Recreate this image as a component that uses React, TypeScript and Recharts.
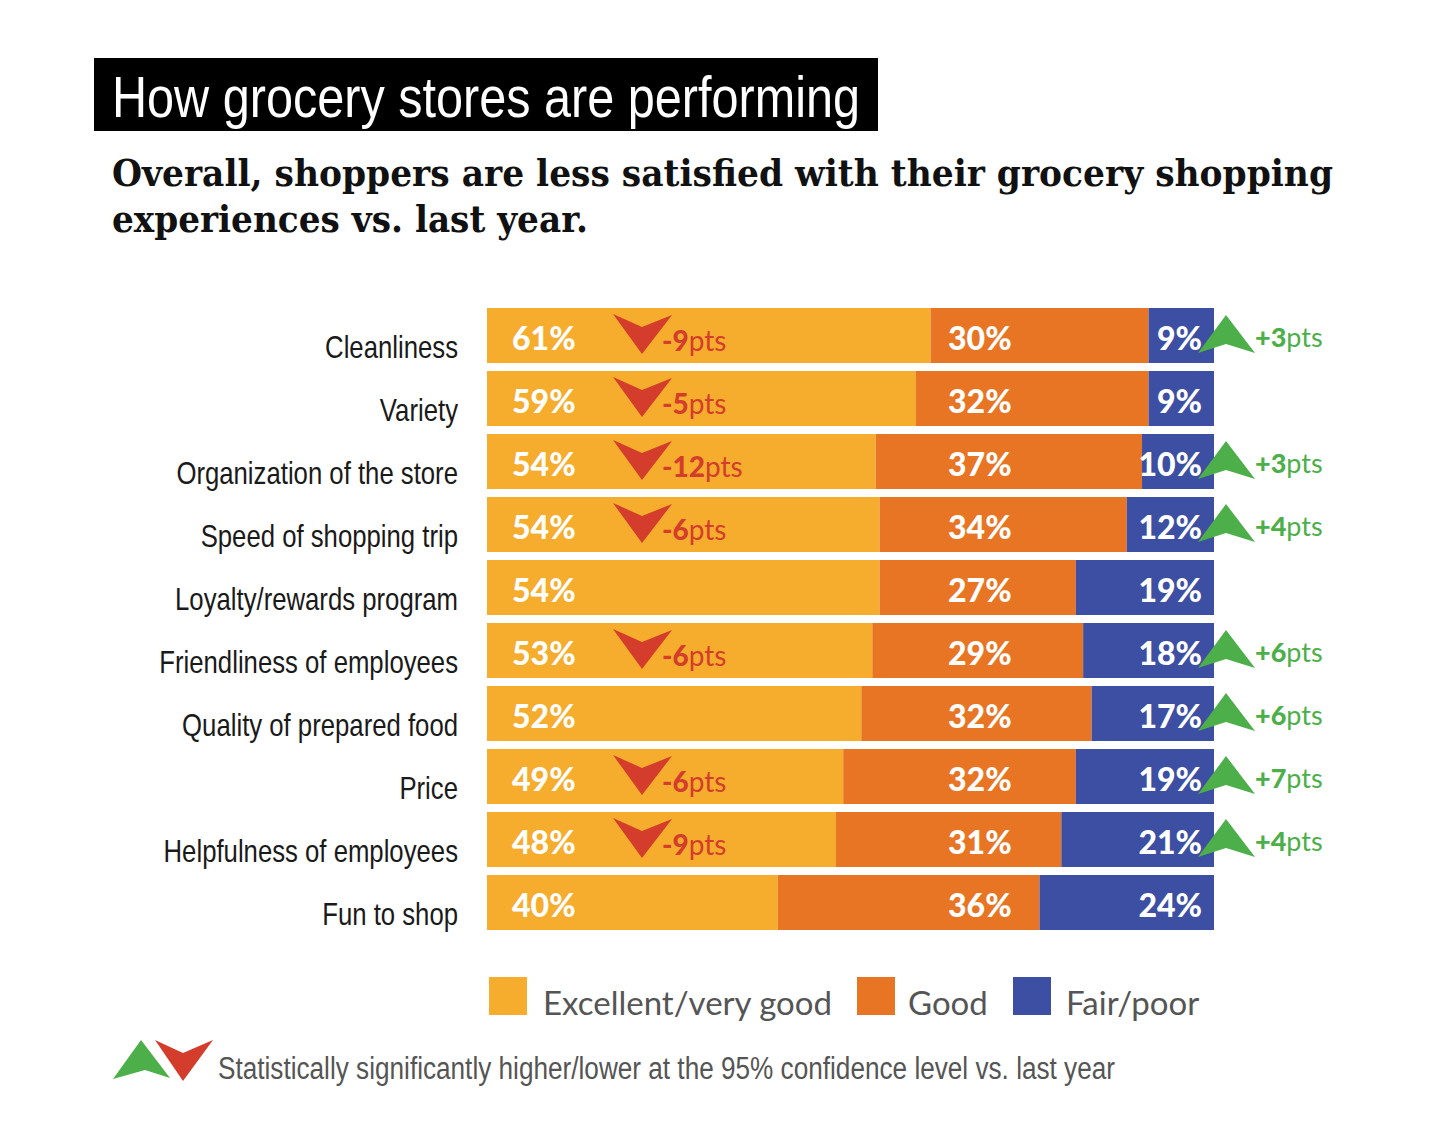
import React from 'react';
import { BarChart, Bar, XAxis, YAxis, LabelList } from 'recharts';

const categories = [
  'Cleanliness',
  'Variety',
  'Organization of the store',
  'Speed of shopping trip',
  'Loyalty/rewards program',
  'Friendliness of employees',
  'Quality of prepared food',
  'Price',
  'Helpfulness of employees',
  'Fun to shop',
];
const excellent = [61, 59, 54, 54, 54, 53, 52, 49, 48, 40];
const good = [30, 32, 37, 34, 27, 29, 32, 32, 31, 36];
const fair = [9, 9, 10, 12, 19, 18, 17, 19, 21, 24];
const excellentChange: (number | null)[] = [-9, -5, -12, -6, null, -6, null, -6, -9, null];
const fairChange: (number | null)[] = [3, null, 3, 4, null, 6, 6, 7, 4, null];

const seriesNames = ['Excellent/very good', 'Good', 'Fair/poor'];
const titleText = 'How grocery stores are performing';
const subtitleLines = ['Overall, shoppers are less satisfied with their grocery shopping', 'experiences vs. last year.'];
const noteText = 'Statistically significantly higher/lower at the 95% confidence level vs. last year';

const COLORS = ['#F6AC2C', '#E87524', '#3C4FA2'];
const RED = '#D43D2C';
const GREEN = '#4DAF4A';

const data = categories.map((name, i) => ({
  name,
  excellent: excellent[i],
  good: good[i],
  fair: fair[i],
}));

const W = 1440;
const H = 1140;
const PLOT_LEFT = 487;
const PLOT_RIGHT = 1214;
const PLOT_TOP = 304;
const PLOT_BOTTOM = 934;

const SANS = '"Liberation Sans", Arial, sans-serif';
const ROUND = 'Lato, "Open Sans", sans-serif';
const NARROW_SCALE = 0.83;
const SUB_SCALE = 0.85;

const valueStyle = {
  fill: '#fff',
  fontFamily: ROUND,
  fontWeight: 900,
  fontSize: 32,
};

const CategoryTick = (props: any) => {
  const { x, y, payload } = props;
  return (
    <g transform={`translate(${x - 21},${y + 12}) scale(${NARROW_SCALE},1)`}>
      <text
        x={0}
        y={0}
        textAnchor="end"
        dominantBaseline="central"
        fontFamily={SANS}
        fontSize={31}
        fill="#1a1a1a"
      >
        {payload.value}
      </text>
    </g>
  );
};

const ExcellentLabel = (props: any) => {
  const { x, y, height, index } = props;
  const ch = excellentChange[index];
  const cy = y + height / 2 + 2;
  const ax = x + 126;
  return (
    <g>
      <text x={x + 25} y={cy} dominantBaseline="central" {...valueStyle}>
        {excellent[index]}%
      </text>
      {ch !== null && (
        <g>
          <path
            d={`M${ax},${y + 6} L${ax + 29},${y + 19} L${ax + 59},${y + 7} L${ax + 29},${y + 46} Z`}
            fill={RED}
          />
          <text x={ax + 49} y={y + 32} dominantBaseline="central" fontFamily={ROUND} fontSize={28} fill={RED}>
            <tspan fontWeight={900}>{ch}</tspan>
            <tspan fontWeight={400}>pts</tspan>
          </text>
        </g>
      )}
    </g>
  );
};

const GoodLabel = (props: any) => {
  const { y, height, index } = props;
  const cy = y + height / 2 + 2;
  return (
    <text x={PLOT_LEFT + 461} y={cy} dominantBaseline="central" {...valueStyle}>
      {good[index]}%
    </text>
  );
};

const FairLabel = (props: any) => {
  const { x, y, width, height, index } = props;
  const ch = fairChange[index];
  const cy = y + height / 2 + 2;
  const right = x + width;
  const ax = right - 16;
  return (
    <g>
      <text x={right - 12} y={cy} textAnchor="end" dominantBaseline="central" {...valueStyle}>
        {fair[index]}%
      </text>
      {ch !== null && (
        <g>
          <path
            d={`M${ax + 28},${y + 7} L${ax + 57},${y + 45} L${ax + 28},${y + 36} L${ax},${y + 45} Z`}
            fill={GREEN}
          />
          <text x={ax + 57} y={y + 28} dominantBaseline="central" fontFamily={ROUND} fontSize={27} fill={GREEN}>
            <tspan fontWeight={900}>+{ch}</tspan>
            <tspan fontWeight={400}>pts</tspan>
          </text>
        </g>
      )}
    </g>
  );
};

export default function App() {
  return (
    <div style={{ position: 'absolute', left: 0, top: 0, width: W, height: H, background: '#fff', overflow: 'hidden' }}>
      <svg style={{ position: 'absolute', left: 0, top: 0 }} width={W} height={260}>
        <rect x={94} y={58} width={784} height={73} fill="#000" />
        <text
          x={112}
          y={117}
          fontFamily={SANS}
          fontSize={58}
          fill="#fff"
          textLength={748}
          lengthAdjust="spacingAndGlyphs"
        >
          {titleText}
        </text>
        <g transform={`translate(112,186) scale(${SUB_SCALE},1)`}>
          <text
            x={0}
            y={0}
            fontFamily='"DejaVu Serif", serif'
            fontWeight={700}
            fontSize={38}
            fill="#111"
            textLength={1221 / SUB_SCALE}
            lengthAdjust="spacingAndGlyphs"
          >
            {subtitleLines[0]}
          </text>
        </g>
        <g transform={`translate(112,232) scale(${SUB_SCALE},1)`}>
          <text
            x={0}
            y={0}
            fontFamily='"DejaVu Serif", serif'
            fontWeight={700}
            fontSize={38}
            fill="#111"
            textLength={476 / SUB_SCALE}
            lengthAdjust="spacingAndGlyphs"
          >
            {subtitleLines[1]}
          </text>
        </g>
      </svg>

      <div style={{ position: 'absolute', left: 0, top: 0 }}>
        <BarChart
          width={W}
          height={H}
          data={data}
          layout="vertical"
          stackOffset="expand"
          barSize={55}
          margin={{ top: PLOT_TOP, right: W - PLOT_RIGHT, bottom: H - PLOT_BOTTOM, left: 0 }}
        >
          <XAxis type="number" hide domain={[0, 1]} />
          <YAxis
            type="category"
            dataKey="name"
            width={PLOT_LEFT}
            axisLine={false}
            tickLine={false}
            tick={<CategoryTick />}
          />
          <Bar dataKey="excellent" stackId="s" fill={COLORS[0]} isAnimationActive={false}>
            <LabelList dataKey="excellent" content={<ExcellentLabel />} />
          </Bar>
          <Bar dataKey="good" stackId="s" fill={COLORS[1]} isAnimationActive={false}>
            <LabelList dataKey="good" content={<GoodLabel />} />
          </Bar>
          <Bar dataKey="fair" stackId="s" fill={COLORS[2]} isAnimationActive={false}>
            <LabelList dataKey="fair" content={<FairLabel />} />
          </Bar>
        </BarChart>
      </div>

      {/* Legend */}
      {[
        { x: 489, tx: 543 },
        { x: 857, tx: 908 },
        { x: 1013, tx: 1066 },
      ].map((p, i) => (
        <React.Fragment key={i}>
          <div
            style={{ position: 'absolute', left: p.x, top: 977, width: 38, height: 38, background: COLORS[i] }}
          />
          <div
            style={{
              position: 'absolute',
              left: p.tx,
              top: 981,
              lineHeight: '42px',
              fontFamily: ROUND,
              fontSize: 33,
              color: '#555',
              whiteSpace: 'nowrap',
            }}
          >
            {seriesNames[i]}
          </div>
        </React.Fragment>
      ))}

      {/* Note */}
      <svg style={{ position: 'absolute', left: 0, top: 1000 }} width={W} height={140} pointerEvents="none">
        <path d="M141,40 L170,78 L145,70 L113,79 Z" fill={GREEN} />
        <path d="M155,40 L183,53 L213,40 L183,81 Z" fill={RED} />
        <text
          x={218}
          y={68}
          dominantBaseline="central"
          fontFamily={SANS}
          fontSize={31}
          fill="#555"
          textLength={897}
          lengthAdjust="spacingAndGlyphs"
        >
          {noteText}
        </text>
      </svg>
    </div>
  );
}
